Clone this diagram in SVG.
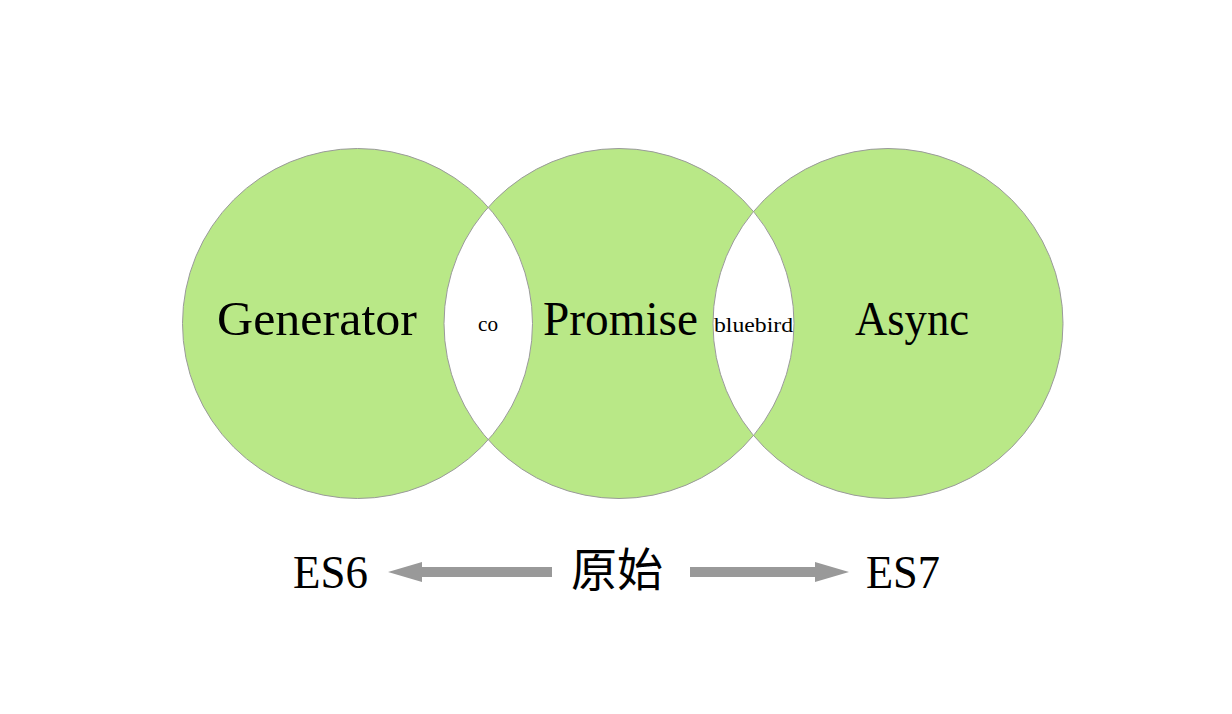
<svg xmlns="http://www.w3.org/2000/svg" xmlns:xlink="http://www.w3.org/1999/xlink" width="1232" height="714" viewBox="0 0 1232 714">
<style>
.fill{fill:#b9e887;stroke:none}
.outline{fill:none;stroke:#9a9a9a;stroke-width:1}
.lens{fill:#ffffff;stroke:none}
.big{font-family:"Liberation Serif","Noto Sans CJK SC",serif;font-size:48px;fill:#000}
.small{font-family:"Liberation Serif",serif;font-size:21px;fill:#000}
.bottom{font-family:"Liberation Serif","Noto Sans CJK SC",serif;font-size:46px;fill:#000}
.arrow{stroke:#999999;stroke-width:10;fill:none}
</style>
<defs>
<circle id="cL" cx="357.5" cy="323.5" r="175"/>
<circle id="cM" cx="619" cy="323.5" r="175"/>
<circle id="cR" cx="888" cy="323.5" r="175"/>
<marker id="head" markerUnits="userSpaceOnUse" markerWidth="34" markerHeight="20" refX="0" refY="10" orient="auto">
<path d="M0,0 L34,10 L0,20 Z" fill="#999999"/>
</marker>
</defs>
<rect width="1232" height="714" fill="#ffffff"/>
<g id="fills">
<use xlink:href="#cL" class="fill"/>
<use xlink:href="#cM" class="fill"/>
<use xlink:href="#cR" class="fill"/>
</g>
<g id="lenses">
<path class="lens" d="M488.25,207.2 A175,175 0 0,0 488.25,439.8 A175,175 0 0,0 488.25,207.2 Z"/>
<path class="lens" d="M753.5,211.5 A175,175 0 0,0 753.5,435.5 A175,175 0 0,0 753.5,211.5 Z"/>
</g>
<g id="outlines">
<use xlink:href="#cL" class="outline"/>
<use xlink:href="#cM" class="outline"/>
<use xlink:href="#cR" class="outline"/>
</g>
<g id="generator"><text class="big" x="217" y="335" textLength="200" lengthAdjust="spacingAndGlyphs">Generator</text></g>
<g id="co"><text class="small" x="478" y="331" font-size="20" textLength="20" lengthAdjust="spacingAndGlyphs">co</text></g>
<g id="promise"><text class="big" x="543" y="335" textLength="155" lengthAdjust="spacingAndGlyphs">Promise</text></g>
<g id="bluebird"><text class="small" x="714" y="332" textLength="79" lengthAdjust="spacingAndGlyphs">bluebird</text></g>
<g id="async"><text class="big" x="855" y="335" textLength="114" lengthAdjust="spacingAndGlyphs">Async</text></g>
<g id="es6"><text class="bottom" x="293" y="588" textLength="75" lengthAdjust="spacingAndGlyphs">ES6</text></g>
<g id="origin"><text class="bottom" x="571" y="586">原始</text></g>
<g id="es7"><text class="bottom" x="866" y="588" textLength="74" lengthAdjust="spacingAndGlyphs">ES7</text></g>
<g id="connectors">
<line class="arrow" x1="552" y1="572" x2="422" y2="572" marker-end="url(#head)"/>
<line class="arrow" x1="690" y1="572" x2="815" y2="572" marker-end="url(#head)"/>
</g>
</svg>
